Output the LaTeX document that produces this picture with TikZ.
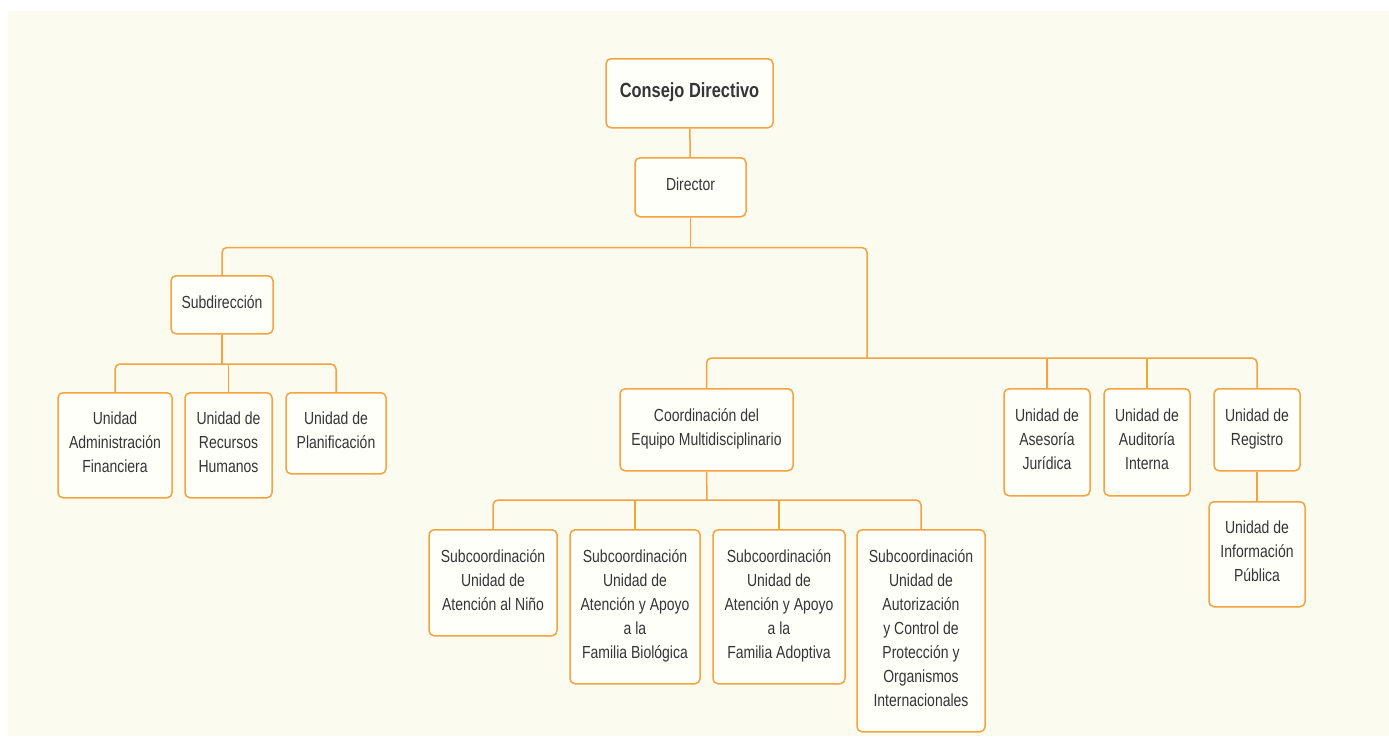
\documentclass[tikz,border=0pt]{standalone}
\usepackage{fontspec}
\setmainfont{Liberation Sans}[FakeStretch=0.8]
\usetikzlibrary{calc}
\definecolor{orgline}{HTML}{F6A23E}
\definecolor{bgcream}{HTML}{FBFBF0}
\definecolor{boxfill}{HTML}{FFFFFA}
\definecolor{txtgray}{HTML}{353535}
\tikzset{
  unit/.style={draw=orgline, fill=boxfill, line width=1.5pt, rounded corners=5pt,
    align=center, text=txtgray, inner sep=0pt, anchor=north, text depth=5.5pt,
    font=\fontsize{17.5}{24}\selectfont},
  link/.style={draw=orgline, line width=1.5pt, rounded corners=5pt}
}

\begin{document}
\begin{tikzpicture}[x=1pt, y=-1pt]
      % page and background
      \useasboundingbox (0,0) rectangle (1389,736);
      \fill[white] (0,0) rectangle (1389,736);
      \fill[bgcream] (8,11) rectangle (1389,736);

      % top level
      \node[unit, minimum width=167, minimum height=69, font=\fontsize{20.5}{24}\selectfont\bfseries] (consejo) at (689.5,58) {Consejo Directivo};
      \node[unit, minimum width=111, minimum height=59] (director) at (690.5,157) {Director};

      % left branch
      \node[unit, minimum width=102, minimum height=58] (subdir) at (222,275) {Subdirección};
      \node[unit, minimum width=114, minimum height=105] (admin) at (115,392) {Unidad\\Administración\\Financiera};
      \node[unit, minimum width=87, minimum height=105] (rrhh) at (228.5,392) {Unidad de\\Recursos\\Humanos};
      \node[unit, minimum width=100, minimum height=81] (planif) at (336,392) {Unidad de\\Planificación};

      % right branch
      \node[unit, minimum width=173, minimum height=82] (coord) at (706.5,388) {Coordinación del\\Equipo Multidisciplinario};
      \node[unit, minimum width=86, minimum height=107] (asesoria) at (1047,388) {Unidad de\\Asesoría\\Jurídica};
      \node[unit, minimum width=86, minimum height=107] (auditoria) at (1147,388) {Unidad de\\Auditoría\\Interna};
      \node[unit, minimum width=86, minimum height=82] (registro) at (1257,388) {Unidad de\\Registro};
      \node[unit, minimum width=96, minimum height=105] (infopub) at (1257,501) {Unidad de\\Información\\Pública};

      % subcoordinaciones
      \node[unit, minimum width=128, minimum height=106] (nino) at (493,529) {Subcoordinación\\Unidad de\\Atención al Niño};
      \node[unit, minimum width=130, minimum height=154] (biologica) at (635,529) {Subcoordinación\\Unidad de\\Atención y Apoyo\\a la\\Familia Biológica};
      \node[unit, minimum width=132, minimum height=154] (adoptiva) at (779,529) {Subcoordinación\\Unidad de\\Atención y Apoyo\\a la\\Familia Adoptiva};
      \node[unit, minimum width=128, minimum height=202] (autoriz) at (921,529) {Subcoordinación\\Unidad de\\Autorización\\y Control de\\Protección y\\Organismos\\Internacionales};

      % connectors
      \coordinate (rightbus) at (867,358);
      \coordinate (subbus) at (222,364);
      \coordinate (coordbus) at (707,500);

      \draw[link] (consejo) -- (director);
      \draw[link] (subdir.north) |- ($(director.south)+(0,30)$) -| (rightbus);
      \draw[link] (director.south) -- ++(0,30);

      \draw[link] (admin.north) |- (subbus) -| (planif.north);
      \draw[link] (subdir.south) -- (subbus);
      \draw[link] (rrhh.north) -- (rrhh.north |- subbus);

      \draw[link] (coord.north) |- (rightbus) -| (registro.north);
      \draw[link] (asesoria.north) -- (asesoria.north |- rightbus);
      \draw[link] (auditoria.north) -- (auditoria.north |- rightbus);
      \draw[link] (registro) -- (infopub);

      \draw[link] (nino.north) |- (coordbus) -| (autoriz.north);
      \draw[link] (coord.south) -- (coordbus);
      \draw[link] (biologica.north) -- (biologica.north |- coordbus);
      \draw[link] (adoptiva.north) -- (adoptiva.north |- coordbus);
\end{tikzpicture}
\end{document}
